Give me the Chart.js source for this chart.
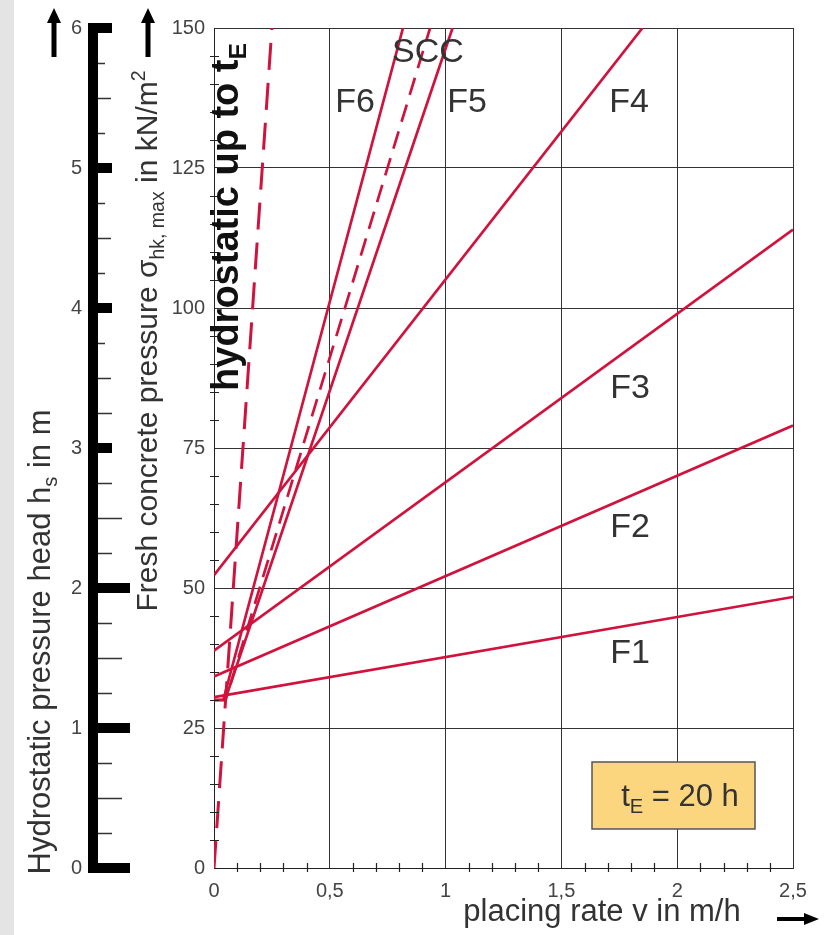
<!DOCTYPE html>
<html lang="en">
<head>
<meta charset="UTF-8" />
<title>Fresh concrete pressure vs. placing rate</title>
<script src="https://cdn.jsdelivr.net/npm/chart.js"></script>
<style>
  body { margin: 0; background: #fff; }
  canvas { display: block; }
</style>
</head>
<body>
<canvas id="chart" width="832" height="935"></canvas>
<script>
// placing rate v in m/h  ->  fresh concrete pressure in kN/m2
const hydroRate = [0, 0.25];
const hydroPress = [0, 150];
const f1Rate = [0, 2.5];
const f1Press = [30.5, 48.4];
const f2Rate = [0, 2.5];
const f2Press = [34.2, 79];
const f3Rate = [0, 2.5];
const f3Press = [38.8, 114];
const f4Rate = [0, 1.85];
const f4Press = [52.3, 150];
const f5Rate = [0, 0.048, 1.03];
const f5Press = [30, 30, 150];
const sccRate = [0, 0.05, 0.933];
const sccPress = [30, 30, 150];
const f6Rate = [0, 0.04, 0.816];
const f6Press = [30, 30, 150];

const xTicks = [0, 0.5, 1, 1.5, 2, 2.5];
const yTicks = [0, 25, 50, 75, 100, 125, 150];
const headTicks = [0, 1, 2, 3, 4, 5, 6];

const RED = '#d1123d';
const FONT = '"Liberation Sans", Arial, sans-serif';

function pts(xs, ys) {
  return xs.map((x, i) => ({ x: x, y: ys[i] }));
}

const series = [
  { label: 'hydrostatic', data: pts(hydroRate, hydroPress), dash: [27, 13], width: 3 },
  { label: 'F1', data: pts(f1Rate, f1Press) },
  { label: 'F2', data: pts(f2Rate, f2Press) },
  { label: 'F3', data: pts(f3Rate, f3Press) },
  { label: 'F4', data: pts(f4Rate, f4Press) },
  { label: 'F5', data: pts(f5Rate, f5Press) },
  { label: 'SCC', data: pts(sccRate, sccPress), dash: [18, 10] },
  { label: 'F6', data: pts(f6Rate, f6Press) }
];

// text with sub/superscripts: parts = [[text, 0 normal | 1 sub | 2 sup], ...]
function richText(c, parts, x, y, size, weight) {
  const fonts = parts.map(p => weight + ' ' + (p[1] ? size * 0.65 : size) + 'px ' + FONT);
  let w = 0;
  parts.forEach((p, i) => { c.font = fonts[i]; w += c.measureText(p[0]).width; });
  let cx = x - w / 2;
  c.textAlign = 'left';
  c.textBaseline = 'alphabetic';
  parts.forEach((p, i) => {
    c.font = fonts[i];
    const dy = p[1] === 1 ? size * 0.22 : (p[1] === 2 ? -size * 0.4 : 0);
    c.fillText(p[0], cx, y + dy);
    cx += c.measureText(p[0]).width;
  });
}

function rotText(c, parts, x, y, size, weight) {
  c.save();
  c.translate(x, y);
  c.rotate(-Math.PI / 2);
  richText(c, parts, 0, 0, size, weight);
  c.restore();
}

function arrowUp(c, x, tip, tail) {
  c.fillRect(x - 2.5, tip + 12, 5, tail - tip - 12);
  c.beginPath();
  c.moveTo(x, tip);
  c.lineTo(x - 7, tip + 15);
  c.lineTo(x + 7, tip + 15);
  c.closePath();
  c.fill();
}

function arrowRight(c, tail, tip, y) {
  c.fillRect(tail, y - 2, tip - tail - 12, 4);
  c.beginPath();
  c.moveTo(tip, y);
  c.lineTo(tip - 15, y - 6);
  c.lineTo(tip - 15, y + 6);
  c.closePath();
  c.fill();
}

const decor = {
  id: 'decor',
  beforeDraw(chart) {
    const c = chart.ctx;
    c.save();
    c.fillStyle = '#fff';
    c.fillRect(0, 0, chart.width, chart.height);
    c.fillStyle = '#e4e4e4';
    c.fillRect(0, 0, 14, chart.height);
    c.restore();
  },
  afterDatasetsDraw(chart) {
    const c = chart.ctx;
    const x = chart.scales.x, y = chart.scales.y;
    c.save();
    // minor ticks crossing the axes
    c.strokeStyle = '#222';
    c.lineWidth = 1.2;
    c.beginPath();
    for (let i = 1; i < 30; i++) {
      if (i % 5 === 0) continue;
      const py = Math.round(y.getPixelForValue(i * 5)) + 0.5;
      c.moveTo(x.left - 4, py);
      c.lineTo(x.left + 5, py);
    }
    for (let i = 1; i < 25; i++) {
      if (i % 5 === 0) continue;
      const px = Math.round(x.getPixelForValue(i / 10)) + 0.5;
      c.moveTo(px, y.bottom - 5);
      c.lineTo(px, y.bottom + 4);
    }
    c.stroke();

    // t_E box
    c.fillStyle = '#fcd57f';
    c.fillRect(592, 762, 163, 67);
    c.strokeStyle = '#555';
    c.lineWidth = 1.5;
    c.strokeRect(592, 762, 163, 67);
    c.fillStyle = '#333';
    richText(c, [['t', 0], ['E', 1], [' = 20 h', 0]], 680, 806, 31, 'normal');

    // curve labels
    c.fillStyle = '#333';
    richText(c, [['F6', 0]], 355, 112, 34, 'normal');
    richText(c, [['F5', 0]], 467, 112, 34, 'normal');
    richText(c, [['F4', 0]], 629, 112, 34, 'normal');
    richText(c, [['SCC', 0]], 428, 62, 34, 'normal');
    richText(c, [['F3', 0]], 630, 398, 34, 'normal');
    richText(c, [['F2', 0]], 630, 537, 34, 'normal');
    richText(c, [['F1', 0]], 630, 663, 34, 'normal');

    c.fillStyle = '#111';
    rotText(c, [['hydrostatic up to t', 0], ['E', 1]], 238, 217, 38, 'bold');
    c.restore();
  },
  afterDraw(chart) {
    const c = chart.ctx;
    const h = chart.scales.yh;
    c.save();
    c.fillStyle = '#000';
    // hydrostatic pressure head scale
    c.fillRect(88, h.getPixelForValue(6) - 5, 10, h.getPixelForValue(0) - h.getPixelForValue(6) + 10);
    headTicks.forEach(v => {
      const py = h.getPixelForValue(v);
      const x1 = v <= 2 ? 130 : 112;
      c.fillRect(88, py - 5, x1 - 88, 10);
    });
    c.strokeStyle = '#333';
    c.lineWidth = 1.3;
    c.beginPath();
    for (let i = 1; i < 24; i++) {
      if (i % 4 === 0) continue;
      const v = i / 4;
      const py = Math.round(h.getPixelForValue(v)) + 0.5;
      let len;
      if (i % 2 === 0) len = v < 3 ? 25 : 14;
      else len = v < 3.5 ? 15 : 8;
      c.moveTo(98, py);
      c.lineTo(97 + len, py);
    }
    c.stroke();
    c.fillStyle = '#444';
    c.font = '20px ' + FONT;
    c.textAlign = 'right';
    c.textBaseline = 'middle';
    headTicks.forEach(v => c.fillText(String(v), 82, h.getPixelForValue(v)));

    // axis titles
    c.fillStyle = '#333';
    rotText(c, [['Hydrostatic pressure head h', 0], ['s', 1], [' in m', 0]], 50, 642, 31, 'normal');
    rotText(c, [['Fresh concrete pressure \u03c3', 0], ['hk, max', 1], [' in kN/m', 0], ['2', 2]], 157, 341, 30, 'normal');
    richText(c, [['placing rate v in m/h', 0]], 602, 921, 31, 'normal');

    // arrows
    c.fillStyle = '#000';
    arrowUp(c, 54, 8, 57);
    arrowUp(c, 148, 8, 57);
    arrowRight(c, 777, 819, 919);
    c.restore();
  }
};

new Chart(document.getElementById('chart'), {
  type: 'scatter',
  data: {
    datasets: series.map(s => ({
      label: s.label,
      data: s.data,
      showLine: true,
      borderColor: RED,
      backgroundColor: RED,
      borderWidth: s.width || 2.7,
      borderDash: s.dash || [],
      pointRadius: 0,
      fill: false
    }))
  },
  options: {
    responsive: false,
    animation: false,
    layout: { padding: { left: 0, right: 39, top: 28, bottom: 0 } },
    plugins: { legend: { display: false }, tooltip: { enabled: false } },
    scales: {
      x: {
        type: 'linear',
        min: 0,
        max: 2.5,
        afterBuildTicks: s => { s.ticks = xTicks.map(v => ({ value: v })); },
        afterFit: s => { s.height = 67; },
        ticks: {
          callback: v => String(v).replace('.', ','),
          font: { family: FONT, size: 20 },
          color: '#444',
          padding: 11,
          maxRotation: 0
        },
        grid: { color: '#333', lineWidth: 1, drawTicks: false },
        border: { color: '#222', width: 1 }
      },
      y: {
        type: 'linear',
        min: 0,
        max: 150,
        afterBuildTicks: s => { s.ticks = yTicks.map(v => ({ value: v })); },
        afterFit: s => { s.width = 214; },
        ticks: {
          font: { family: FONT, size: 20 },
          color: '#444',
          padding: 9
        },
        grid: { color: '#333', lineWidth: 1, drawTicks: false },
        border: { color: '#222', width: 1 }
      },
      yh: {
        type: 'linear',
        position: 'left',
        min: 0,
        max: 6,
        display: false
      }
    }
  },
  plugins: [decor]
});
</script>
</body>
</html>
